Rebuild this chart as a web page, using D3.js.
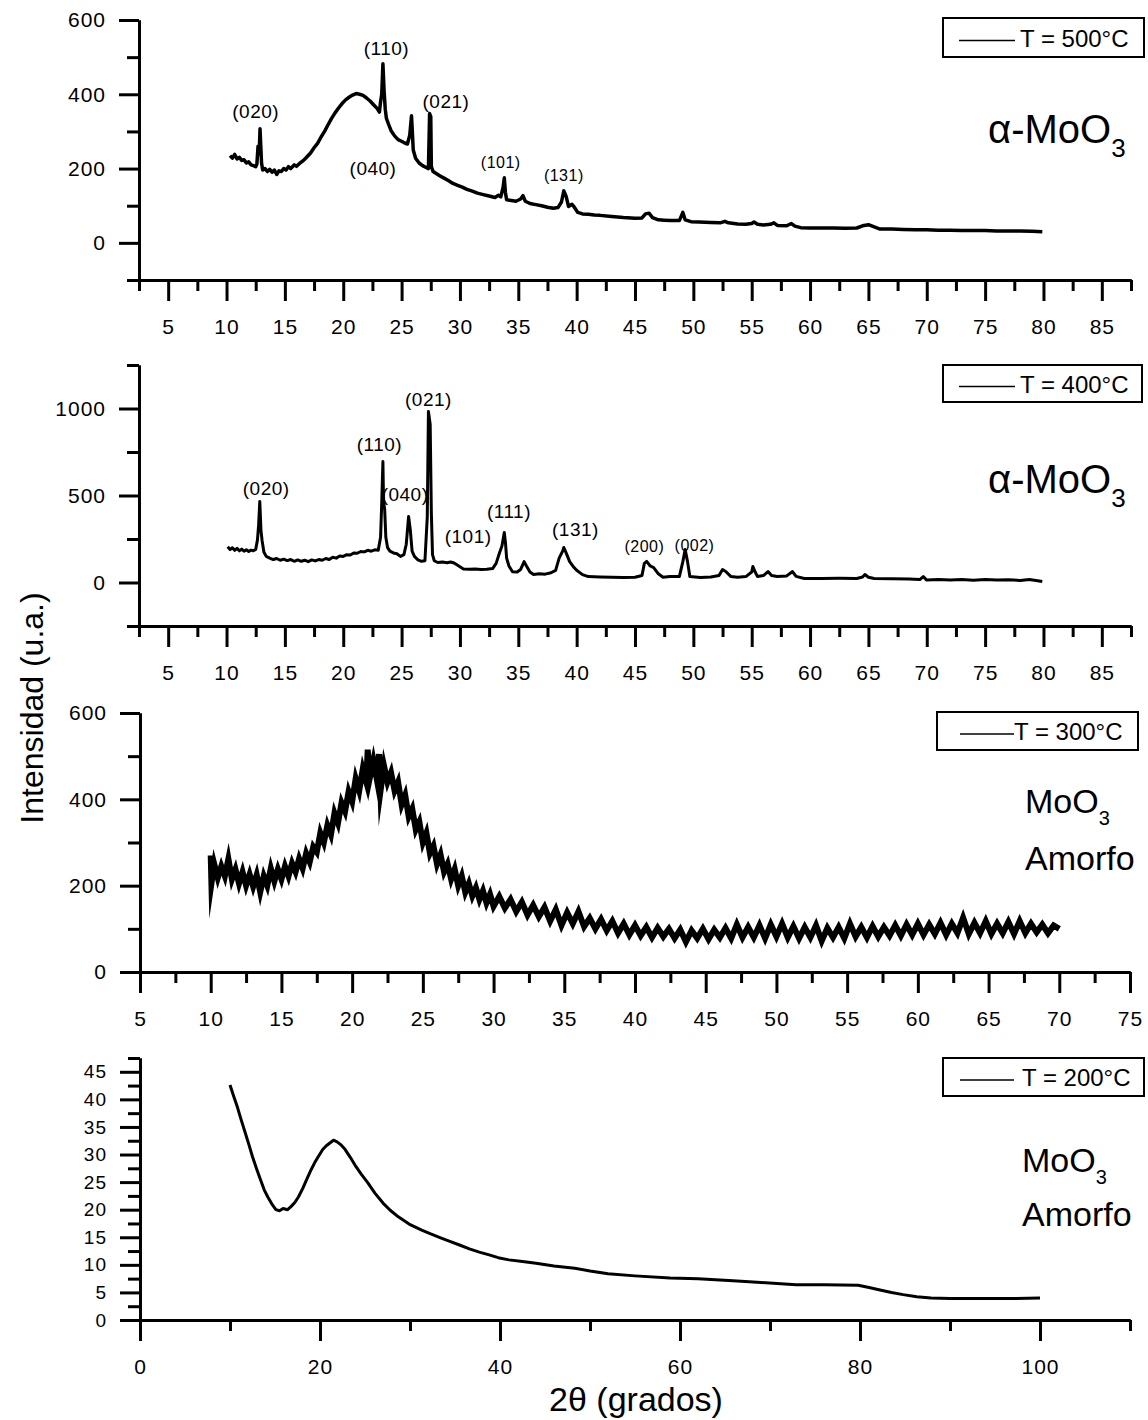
<!DOCTYPE html>
<html>
<head>
<meta charset="utf-8">
<script src="https://cdnjs.cloudflare.com/ajax/libs/d3/7.8.5/d3.min.js"></script>
<style>
body { margin: 0; background: #fff; }
svg text { font-family: "Liberation Sans", Arial, sans-serif; fill: #000; }
</style>
</head>
<body>
<div id="chart"></div>
<script>
// ---- data: [2theta, intensity] ----
var t500 = [[10.3,235],[10.5,228],[10.7,238],[10.9,226],[11.1,230],[11.3,222],[11.5,224],[11.7,215],[11.9,218],[12.1,210],[12.3,208],[12.5,205],[12.6,212],[12.7,260],[12.8,240],[12.87,307],[12.95,250],[13.0,215],[13.1,196],[13.3,200],[13.5,192],[13.7,198],[13.9,190],[14.1,196],[14.3,184],[14.5,194],[14.7,192],[14.9,200],[15.1,196],[15.3,205],[15.5,200],[15.8,210],[16.0,206],[16.3,215],[16.6,222],[16.9,232],[17.2,242],[17.5,256],[17.8,268],[18.1,285],[18.4,300],[18.7,318],[19.0,335],[19.3,350],[19.6,363],[19.9,375],[20.2,385],[20.5,392],[20.8,398],[21.1,402],[21.4,400],[21.7,397],[22.0,390],[22.3,382],[22.6,372],[22.9,362],[23.1,352],[23.2,380],[23.3,400],[23.4,482],[23.5,410],[23.6,360],[23.7,335],[23.9,318],[24.1,302],[24.4,288],[24.7,278],[24.9,275],[25.2,270],[25.5,266],[25.7,290],[25.85,342],[26.0,250],[26.2,228],[26.5,215],[26.8,208],[27.1,203],[27.3,200],[27.4,348],[27.5,340],[27.55,205],[27.7,192],[28.0,186],[28.3,180],[28.6,175],[29.0,168],[29.4,160],[29.8,155],[30.2,150],[30.6,144],[31.0,140],[31.5,134],[32.0,130],[32.5,126],[33.0,122],[33.3,128],[33.5,124],[33.7,150],[33.8,175],[33.9,135],[34.0,116],[34.4,114],[34.8,112],[35.2,118],[35.4,127],[35.6,112],[36.0,106],[36.5,103],[37.0,100],[37.5,96],[38.0,93],[38.4,95],[38.7,110],[38.9,140],[39.1,125],[39.3,98],[39.6,104],[39.8,96],[40.1,82],[40.5,78],[41.0,77],[41.5,75],[42.0,74],[43.0,71],[44.0,68],[45.0,66],[45.6,67],[45.9,78],[46.2,80],[46.5,68],[47.0,62],[47.5,61],[48.0,60],[48.8,60],[49.1,82],[49.3,62],[49.8,57],[50.5,56],[51.5,55],[52.3,54],[52.7,58],[53.0,54],[53.8,51],[54.5,50],[55.0,52],[55.2,56],[55.5,50],[56.0,48],[56.6,50],[56.9,54],[57.2,47],[58.0,46],[58.4,52],[58.7,45],[59.2,41],[60.0,40],[61.0,40],[62.0,40],[63.0,39],[64.0,40],[64.5,46],[65.0,49],[65.5,43],[66.0,37],[67.0,37],[68.0,36],[69.0,35],[70.0,35],[71.0,34],[72.0,34],[73.0,33],[74.0,33],[75.0,33],[76.0,32],[77.0,32],[78.0,32],[79.0,31],[79.9,30]];

var t400 = [[10.1,205],[10.3,190],[10.5,200],[10.7,185],[10.9,196],[11.1,182],[11.3,192],[11.5,180],[11.7,188],[11.9,178],[12.1,186],[12.3,182],[12.5,190],[12.65,245],[12.75,330],[12.85,466],[12.95,300],[13.05,240],[13.2,175],[13.4,150],[13.7,140],[14.0,132],[14.3,138],[14.6,128],[14.9,134],[15.2,126],[15.5,132],[15.8,122],[16.1,130],[16.4,122],[16.7,128],[17.0,120],[17.3,130],[17.6,124],[17.9,132],[18.2,128],[18.5,138],[18.8,132],[19.1,145],[19.4,140],[19.7,152],[20.0,150],[20.3,160],[20.6,158],[20.9,170],[21.2,168],[21.5,178],[21.8,176],[22.1,185],[22.4,180],[22.7,188],[23.0,186],[23.2,260],[23.3,460],[23.4,695],[23.45,470],[23.55,420],[23.65,260],[23.8,200],[24.0,180],[24.3,170],[24.6,165],[24.9,150],[25.2,160],[25.4,220],[25.6,379],[25.75,300],[25.9,180],[26.1,150],[26.4,130],[26.7,122],[27.0,125],[27.1,250],[27.2,374],[27.3,983],[27.45,908],[27.55,400],[27.65,160],[27.8,125],[28.1,115],[28.5,118],[28.9,114],[29.2,118],[29.5,112],[29.9,95],[30.3,78],[30.8,76],[31.3,77],[31.8,75],[32.3,76],[32.8,80],[33.1,110],[33.4,172],[33.6,210],[33.8,287],[33.9,230],[34.0,140],[34.2,95],[34.5,62],[34.9,60],[35.2,75],[35.5,120],[35.7,95],[36.0,60],[36.3,46],[36.8,50],[37.3,48],[37.8,56],[38.2,70],[38.5,140],[38.8,180],[38.9,201],[39.1,170],[39.4,120],[39.7,92],[40.0,70],[40.5,45],[41.0,34],[42.0,32],[43.0,30],[44.0,29],[45.0,30],[45.6,40],[45.8,110],[46.0,121],[46.3,95],[46.6,86],[47.0,50],[47.4,30],[48.0,34],[48.8,34],[49.1,120],[49.3,190],[49.5,120],[49.7,34],[50.6,29],[51.5,32],[52.2,40],[52.5,75],[52.8,62],[53.2,35],[53.8,30],[54.5,34],[55.0,60],[55.1,92],[55.3,60],[55.5,34],[56.0,40],[56.4,63],[56.7,40],[57.2,34],[58.0,38],[58.5,63],[58.8,35],[59.5,23],[61.0,23],[62.5,24],[64.0,23],[64.5,32],[64.7,46],[65.0,30],[65.5,23],[67.0,22],[68.5,20],[69.4,17],[69.7,34],[70.0,14],[71.0,17],[72.0,14],[73.0,17],[74.0,13],[75.0,17],[76.0,14],[77.0,16],[78.0,12],[78.8,17],[79.5,10],[79.9,6]];

var t300 = [[10.0,270],[10.05,205],[10.25,250],[10.5,218],[10.75,245],[11.0,222],[11.25,262],[11.5,215],[11.75,238],[12.0,205],[12.25,232],[12.5,200],[12.75,226],[13.0,198],[13.25,225],[13.5,185],[13.75,222],[14.0,200],[14.25,240],[14.5,210],[14.75,238],[15.0,215],[15.25,245],[15.5,222],[15.75,252],[16.0,232],[16.25,262],[16.5,240],[16.75,275],[17.0,255],[17.25,290],[17.5,278],[17.75,322],[18.0,300],[18.25,340],[18.5,318],[18.75,368],[19.0,345],[19.25,392],[19.5,372],[19.75,418],[20.0,395],[20.25,448],[20.5,420],[20.75,470],[21.0,440],[21.1,515],[21.25,450],[21.5,490],[21.75,445],[21.9,505],[22.0,418],[22.25,478],[22.5,440],[22.75,462],[23.0,420],[23.25,440],[23.5,388],[23.75,410],[24.0,360],[24.25,378],[24.5,330],[24.75,348],[25.0,300],[25.25,322],[25.5,275],[25.75,292],[26.0,250],[26.25,272],[26.5,232],[26.75,250],[27.0,215],[27.25,238],[27.5,200],[27.75,222],[28.0,185],[28.25,205],[28.5,176],[28.75,195],[29.0,168],[29.25,188],[29.5,160],[29.75,180],[30.0,152],[30.4,175],[30.8,148],[31.2,168],[31.6,140],[32.0,162],[32.4,132],[32.8,155],[33.2,128],[33.6,150],[34.0,118],[34.4,145],[34.8,108],[35.2,138],[35.6,112],[36.0,140],[36.4,105],[36.8,125],[37.2,100],[37.6,122],[38.0,96],[38.4,118],[38.8,90],[39.2,112],[39.6,86],[40.0,108],[40.4,84],[40.8,104],[41.2,80],[41.6,102],[42.0,82],[42.4,100],[42.8,78],[43.2,98],[43.6,70],[44.0,96],[44.4,78],[44.8,100],[45.2,76],[45.6,98],[46.0,80],[46.4,102],[46.8,78],[47.2,110],[47.6,80],[48.0,104],[48.4,80],[48.8,108],[49.2,78],[49.6,110],[50.0,82],[50.4,112],[50.8,80],[51.2,106],[51.6,78],[52.0,104],[52.4,80],[52.8,108],[53.2,72],[53.6,102],[54.0,80],[54.4,104],[54.8,78],[55.2,112],[55.6,82],[56.0,104],[56.4,80],[56.8,106],[57.2,82],[57.6,104],[58.0,84],[58.4,108],[58.8,84],[59.2,110],[59.6,86],[60.0,112],[60.4,86],[60.8,110],[61.2,88],[61.6,114],[62.0,86],[62.4,112],[62.8,90],[63.2,126],[63.6,88],[64.0,114],[64.4,90],[64.8,118],[65.2,88],[65.6,112],[66.0,90],[66.4,116],[66.8,88],[67.2,118],[67.6,90],[68.0,112],[68.4,92],[68.8,110],[69.2,90],[69.6,108],[70.0,100]];

var t200 = [[10.0,42.6],[10.4,40.6],[10.8,38.7],[11.2,36.5],[11.7,33.9],[12.1,31.8],[12.5,29.6],[13.0,27.2],[13.4,25.4],[13.8,23.6],[14.2,22.3],[14.7,20.9],[15.1,20.0],[15.5,19.8],[15.9,20.2],[16.4,20.0],[16.8,20.6],[17.2,21.3],[17.6,22.3],[18.1,23.9],[18.5,25.4],[19.0,27.2],[19.4,28.5],[19.8,29.6],[20.3,30.9],[20.7,31.6],[21.1,32.1],[21.5,32.6],[21.9,32.3],[22.3,31.8],[22.8,30.9],[23.4,29.4],[24.0,27.8],[24.6,26.4],[25.3,24.9],[26.1,23.0],[27.0,21.2],[27.8,19.9],[28.7,18.7],[29.9,17.4],[31.3,16.3],[32.3,15.6],[33.4,14.9],[34.5,14.2],[35.5,13.6],[36.6,12.9],[37.7,12.3],[38.8,11.8],[39.8,11.3],[41.0,10.9],[42.5,10.6],[44.0,10.3],[46.0,9.8],[48.3,9.4],[50.0,8.9],[52.0,8.4],[55.0,8.0],[58.9,7.6],[62.0,7.5],[65.9,7.1],[69.0,6.8],[72.9,6.4],[76.0,6.4],[79.8,6.3],[81.0,5.9],[82.1,5.5],[83.5,5.0],[84.8,4.6],[86.3,4.2],[87.9,4.0],[90.0,3.9],[93.8,3.9],[97.0,3.9],[100.0,4.0]];

// ---- peak labels: [hkl, 2theta, intensity] ----
var peaks500 = [["(020)",12.5,336],["(110)",23.7,506],["(040)",22.55,183],["(021)",28.8,363],["(101)",33.5,202],["(131)",38.9,167]];
var peaks400 = [["(020)",13.4,503],["(110)",23.1,756],["(040)",25.3,468],["(021)",27.3,1014],["(101)",30.7,227],["(111)",34.2,371],["(131)",39.9,267],["(200)",45.8,175],["(002)",50.1,181]];

// ---- ticks ----
var xMajorA = [5,10,15,20,25,30,35,40,45,50,55,60,65,70,75,80,85];
var xMinorA = [2.5,7.5,12.5,17.5,22.5,27.5,32.5,37.5,42.5,47.5,52.5,57.5,62.5,67.5,72.5,77.5,82.5,87.5];
var yMajor500 = [0,200,400,600];
var yMinor500 = [-100,100,300,500];
var yMajor400 = [0,500,1000];
var yMinor400 = [-250,250,750,1250];
var xMajor300 = [5,10,15,20,25,30,35,40,45,50,55,60,65,70,75];
var xMinor300 = [7.5,12.5,17.5,22.5,27.5,32.5,37.5,42.5,47.5,52.5,57.5,62.5,67.5,72.5];
var yMajor300 = [0,200,400,600];
var yMinor300 = [100,300,500];
var xMajor200 = [0,20,40,60,80,100];
var xMinor200 = [10,30,50,70,90,110];
var yMajor200 = [0,5,10,15,20,25,30,35,40,45];
var yMinor200 = [2.5,7.5,12.5,17.5,22.5,27.5,32.5,37.5,42.5,47.5];

var svg = d3.select('#chart').append('svg')
	.attr('width', 1148)
	.attr('height', 1420);

function drawPanel(p) {
	var x = d3.scaleLinear().domain(p.xDomain).range(p.xRange);
	var y = d3.scaleLinear().domain(p.yDomain).range(p.yRange);
	var g = svg.append('g');
	var base = p.yRange[0];
	var left = p.xRange[0];
	var fmt = d3.format('d');

	// minor ticks first, then major ticks with labels
	g.append('g').attr('transform', 'translate(0,' + base + ')')
		.call(d3.axisBottom(x).tickValues(p.xMinor).tickSize(11).tickSizeOuter(0).tickFormat(''));
	g.append('g').attr('class', 'xlab').attr('transform', 'translate(0,' + base + ')')
		.call(d3.axisBottom(x).tickValues(p.xMajor).tickSize(21).tickSizeOuter(0).tickPadding(18).tickFormat(fmt));
	g.append('g').attr('transform', 'translate(' + left + ',0)')
		.call(d3.axisLeft(y).tickValues(p.yMinor).tickSize(12).tickSizeOuter(0).tickFormat(''));
	g.append('g').attr('class', 'ylab').attr('transform', 'translate(' + left + ',0)')
		.call(d3.axisLeft(y).tickValues(p.yMajor).tickSize(20).tickSizeOuter(0).tickPadding(13).tickFormat(fmt));

	g.selectAll('.domain').attr('stroke', '#000').attr('stroke-width', 3);
	g.selectAll('.tick line').attr('stroke', '#000').attr('stroke-width', 3);
	g.selectAll('.xlab text').style('font-size', p.xFont + 'px').style('letter-spacing', '1px');
	g.selectAll('.ylab text').style('font-size', p.yFont + 'px').style('letter-spacing', '1px');

	// hkl labels (drawn under the trace)
	if (p.peaks) {
		g.selectAll('.peak')
			.data(p.peaks)
			.enter()
			.append('text')
			.attr('class', 'peak')
			.attr('x', function (d) { return x(d[1]); })
			.attr('y', function (d) { return y(d[2]); })
			.attr('text-anchor', 'middle')
			.style('font-size', function (d) { return (p.small.indexOf(d[0]) >= 0 ? 16 : 19) + 'px'; })
			.style('letter-spacing', '0.5px')
			.text(function (d) { return d[0]; });
	}

	var line = d3.line()
		.x(function (d) { return x(d[0]); })
		.y(function (d) { return y(d[1]); });

	g.append('path')
		.datum(p.data)
		.attr('fill', 'none')
		.attr('stroke', '#000')
		.attr('stroke-width', p.lineWidth)
		.attr('stroke-linejoin', p.join || 'round')
		.attr('stroke-miterlimit', 12)
		.attr('d', line);

	// legend box
	var lg = p.legend;
	g.append('rect')
		.attr('x', lg.x).attr('y', lg.y)
		.attr('width', lg.w).attr('height', lg.h)
		.attr('fill', '#fff').attr('stroke', '#000').attr('stroke-width', 2);
	g.append('line')
		.attr('x1', lg.x + lg.l1).attr('x2', lg.x + lg.l2)
		.attr('y1', lg.y + lg.h / 2 + 3).attr('y2', lg.y + lg.h / 2 + 3)
		.attr('stroke', '#000').attr('stroke-width', 1.5);
	g.append('text')
		.attr('x', lg.x + lg.tx)
		.attr('y', lg.y + lg.h / 2 + 9)
		.style('font-size', '24px')
		.text(lg.label);

	// phase label
	var ph = p.phase;
	var t = g.append('text').attr('x', ph.x).attr('y', ph.y).style('font-size', ph.size + 'px');
	t.append('tspan').text(ph.main);
	t.append('tspan').attr('dy', ph.subDy).style('font-size', ph.subSize + 'px').text('3');
	if (ph.second) {
		g.append('text').attr('x', ph.x).attr('y', ph.y2).style('font-size', ph.size + 'px').text(ph.second);
	}
}

drawPanel({
	data: t500, peaks: peaks500, small: ["(101)", "(131)"],
	xDomain: [2.5, 87.5], xRange: [139, 1131], yDomain: [-100, 600], yRange: [280, 20],
	xMajor: xMajorA, xMinor: xMinorA, yMajor: yMajor500, yMinor: yMinor500,
	xFont: 21, yFont: 21, lineWidth: 3.5,
	legend: { x: 943, y: 18, w: 201, h: 39, l1: 16, l2: 72, tx: 77, label: 'T = 500°C' },
	phase: { x: 988, y: 143, size: 40, main: 'α-MoO', subDy: 14, subSize: 26 }
});

drawPanel({
	data: t400, peaks: peaks400, small: ["(200)", "(002)"],
	xDomain: [2.5, 87.5], xRange: [139, 1131], yDomain: [-250, 1250], yRange: [626, 365],
	xMajor: xMajorA, xMinor: xMinorA, yMajor: yMajor400, yMinor: yMinor400,
	xFont: 21, yFont: 21, lineWidth: 3,
	legend: { x: 943, y: 365, w: 199, h: 37, l1: 16, l2: 72, tx: 77, label: 'T = 400°C' },
	phase: { x: 988, y: 493, size: 40, main: 'α-MoO', subDy: 14, subSize: 26 }
});

drawPanel({
	data: t300, join: 'miter',
	xDomain: [5, 75], xRange: [140, 1130], yDomain: [0, 600], yRange: [972, 713],
	xMajor: xMajor300, xMinor: xMinor300, yMajor: yMajor300, yMinor: yMinor300,
	xFont: 21, yFont: 21, lineWidth: 6,
	legend: { x: 937, y: 712, w: 201, h: 38, l1: 23, l2: 77, tx: 77, label: 'T = 300°C' },
	phase: { x: 1025, y: 813, size: 34, main: 'MoO', subDy: 12, subSize: 20, second: 'Amorfo', y2: 870 }
});

drawPanel({
	data: t200,
	xDomain: [0, 110], xRange: [140, 1130], yDomain: [0, 47.5], yRange: [1320, 1058],
	xMajor: xMajor200, xMinor: xMinor200, yMajor: yMajor200, yMinor: yMinor200,
	xFont: 21, yFont: 19, lineWidth: 3,
	legend: { x: 943, y: 1058, w: 201, h: 38, l1: 17, l2: 71, tx: 79, label: 'T = 200°C' },
	phase: { x: 1022, y: 1172, size: 34, main: 'MoO', subDy: 12, subSize: 20, second: 'Amorfo', y2: 1226 }
});

// axis titles
svg.append('text')
	.attr('transform', 'translate(43,708) rotate(-90)')
	.attr('text-anchor', 'middle')
	.style('font-size', '32px')
	.text('Intensidad (u.a.)');

svg.append('text')
	.attr('x', 636)
	.attr('y', 1411)
	.attr('text-anchor', 'middle')
	.style('font-size', '34px')
	.text('2θ (grados)');
</script>
</body>
</html>
